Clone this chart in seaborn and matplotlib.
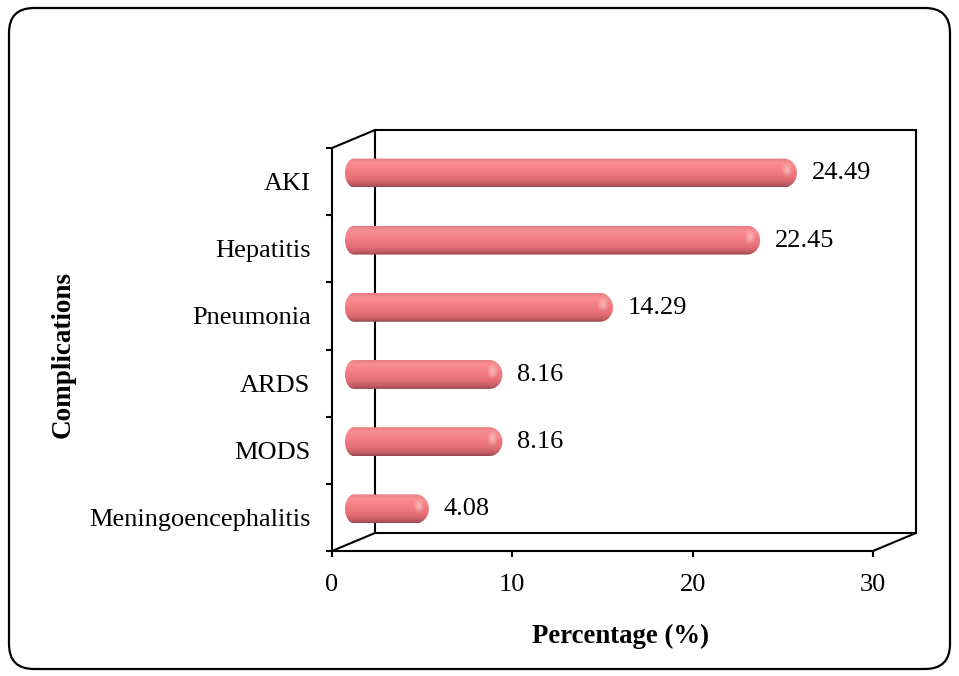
import numpy as np
import pandas as pd
import matplotlib
matplotlib.use("Agg")
import matplotlib.pyplot as plt
import seaborn as sns
from matplotlib.patches import FancyBboxPatch, Rectangle, Ellipse, PathPatch
from matplotlib.path import Path
from matplotlib.lines import Line2D
from matplotlib.transforms import ScaledTranslation
from matplotlib.colors import LinearSegmentedColormap

# ---------------- data ----------------
categories = ["AKI", "Hepatitis", "Pneumonia", "ARDS", "MODS", "Meningoencephalitis"]
percentages = [24.49, 22.45, 14.29, 8.16, 8.16, 4.08]
value_labels = ["24.49", "22.45", "14.29", "8.16", "8.16", "4.08"]
x_ticks = [0, 10, 20, 30]
x_tick_labels = ["0", "10", "20", "30"]
x_title = "Percentage (%)"
y_title = "Complications"

# ---------------- style ----------------
sns.set_theme(style="white")
plt.rcParams["font.family"] = ["Liberation Serif", "DejaVu Serif"]
plt.rcParams["text.color"] = "black"
plt.rcParams["axes.labelcolor"] = "black"
plt.rcParams["xtick.color"] = "black"
plt.rcParams["ytick.color"] = "black"

W, H, DPI = 959, 676, 100
fig = plt.figure(figsize=(W / DPI, H / DPI), dpi=DPI)
fig.patch.set_facecolor("white")

# rounded outer frame
frame = FancyBboxPatch((9 / W, 7 / H), (950 - 9) / W, (669 - 8) / H,
                       boxstyle="round,pad=0,rounding_size=%f" % (25 / W),
                       mutation_aspect=W / H, transform=fig.transFigure,
                       facecolor="white", edgecolor="black", linewidth=1.6,
                       zorder=0)
fig.add_artist(frame)

# front plane axes
L, R, T, B = 332, 873, 148, 551
ax = fig.add_axes([L / W, (H - B) / H, (R - L) / W, (B - T) / H])
ax.set_facecolor("none")

df = pd.DataFrame({"Complication": categories, "Percentage": percentages})
sns.barplot(data=df, x="Percentage", y="Complication", orient="h",
            width=0.43, color="#F08080", ax=ax)

ax.set_xlim(0, 30)
ax.set_ylim(len(categories) - 0.5, -0.5)

px_x = (R - L) / 30.0              # pixels per x unit
px_y = (B - T) / len(categories)   # pixels per category

# depth offsets (pixels)
bar_dx, bar_dy = 13, 8.6
back_dx, back_dy = 43, 18
bar_trans = ax.transData + ScaledTranslation(bar_dx / DPI, bar_dy / DPI, fig.dpi_scale_trans)
back_trans = ax.transAxes + ScaledTranslation(back_dx / DPI, back_dy / DPI, fig.dpi_scale_trans)

# back wall
ax.add_patch(Rectangle((0, 0), 1, 1, transform=back_trans, fill=False,
                       edgecolor="black", linewidth=1.5, clip_on=False, zorder=1))

# depth edges
fig_inv = fig.transFigure.inverted()
for corner in [(0, 1), (0, 0), (1, 0)]:
    p = ax.transAxes.transform(corner)
    q = p + np.array([back_dx, back_dy])
    pf = fig_inv.transform([p, q])
    fig.add_artist(Line2D(pf[:, 0], pf[:, 1], transform=fig.transFigure,
                          color="black", linewidth=1.5, zorder=1))

# cylinder shading (top -> bottom)
cyl_cmap = LinearSegmentedColormap.from_list(
    "cyl",
    [(0.0, (0.90, 0.48, 0.50)),
     (0.15, (0.97, 0.56, 0.58)),
     (0.40, (0.96, 0.50, 0.52)),
     (0.72, (0.89, 0.43, 0.46)),
     (0.90, (0.76, 0.36, 0.39)),
     (1.0, (0.58, 0.28, 0.30))])
grad = np.linspace(0, 1, 256).reshape(-1, 1)

cap = 10.3 / px_x
r_left = 9 / px_x
r_right = 13 / px_x


def pill_path(x0, x1, yc, ry, rl, rr, n=40):
    # right semi-ellipse (top -> bottom), left semi-ellipse (bottom -> top)
    t = np.linspace(-np.pi / 2, np.pi / 2, n)
    right = np.column_stack([x1 - rr + rr * np.cos(t), yc + ry * np.sin(t)])
    t2 = np.linspace(np.pi / 2, 3 * np.pi / 2, n)
    left = np.column_stack([x0 + rl + rl * np.cos(t2), yc + ry * np.sin(t2)])
    verts = np.vstack([right, left, right[:1]])
    codes = [Path.MOVETO] + [Path.LINETO] * (len(verts) - 2) + [Path.CLOSEPOLY]
    return Path(verts, codes)


for patch, lab in zip(list(ax.patches), value_labels):
    x0, y0 = patch.get_x(), patch.get_y()
    w, h = patch.get_width(), patch.get_height()
    patch.set_visible(False)
    x1 = x0 + w + cap
    yc = y0 + h / 2
    pill = PathPatch(pill_path(x0, x1, yc, h / 2, r_left, r_right),
                     transform=bar_trans, facecolor="none", edgecolor="none",
                     clip_on=False, zorder=3)
    ax.add_patch(pill)
    im = ax.imshow(grad, cmap=cyl_cmap, extent=(x0, x1, y0 + h, y0),
                   origin="upper", aspect="auto", interpolation="bilinear", zorder=3)
    im.set_transform(bar_trans)
    im.set_clip_path(pill)
    # soft specular highlight near the end cap
    for k, a in [(1.0, 0.12), (0.7, 0.14), (0.4, 0.18)]:
        ax.add_patch(Ellipse((x1 - 10 / px_x, y0 + h * 0.40), 10 * k / px_x, 14 * k / px_y,
                             transform=bar_trans, facecolor="white", alpha=a,
                             edgecolor="none", clip_on=False, zorder=4))
    ax.text(x1 + 15 / px_x, yc + 0.5 / px_y, lab, transform=bar_trans,
            ha="left", va="center", fontsize=19, color="black", zorder=5)

ax.set_xlim(0, 30)
ax.set_ylim(len(categories) - 0.5, -0.5)
ax.set_aspect("auto")

# ticks
ax.set_xticks(x_ticks)
ax.set_xticklabels(x_tick_labels)
ax.set_yticks(range(len(categories)))
ax.set_yticklabels(categories)
ax.set_yticks(np.arange(-0.5, len(categories), 1.0), minor=True)
ax.tick_params(axis="x", which="major", direction="out", length=4.3, width=1.5,
               pad=12, labelsize=19, bottom=True, colors="black")
ax.tick_params(axis="y", which="major", length=0, pad=15.5, labelsize=19, left=True,
               colors="black")
ax.tick_params(axis="y", which="minor", direction="out", length=4.3, width=1.5, left=True,
               colors="black")
for s in ["top", "right"]:
    ax.spines[s].set_visible(False)
for s in ["left", "bottom"]:
    ax.spines[s].set_visible(True)
    ax.spines[s].set_linewidth(1.5)
    ax.spines[s].set_color("black")
ax.grid(False)

# axis titles
ax.set_xlabel(x_title, fontsize=19.3, fontweight="bold", color="black")
ax.xaxis.set_label_coords((620 - L) / (R - L), (B - 636) / (B - T))
ax.xaxis.label.set_va("center")
ax.set_ylabel(y_title, fontsize=19.5, fontweight="bold", color="black")
ax.yaxis.set_label_coords((63 - L) / (R - L), (B - 355) / (B - T))
ax.yaxis.label.set_va("center")

fig.savefig("out.png", dpi=DPI, facecolor="white")
